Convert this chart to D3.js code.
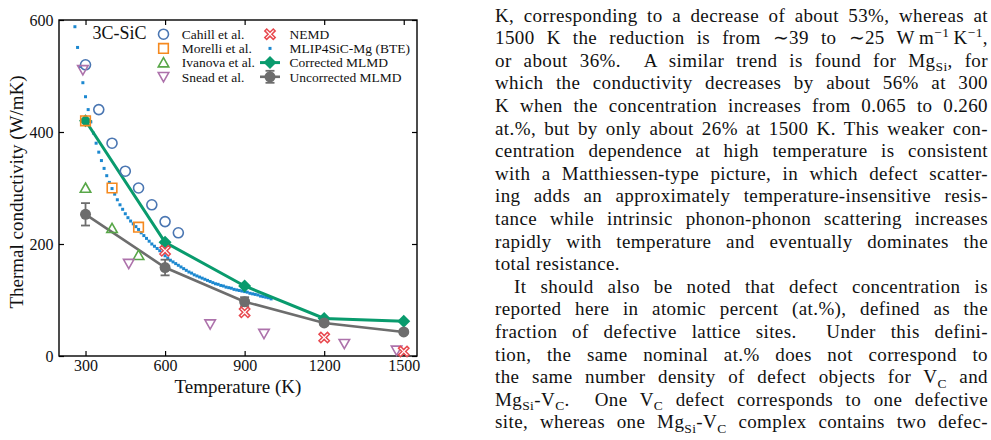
<!DOCTYPE html>
<html>
<head>
<meta charset="utf-8">
<script src="https://cdn.jsdelivr.net/npm/d3@7"></script>
<style>
  html, body { margin: 0; padding: 0; background: #fff; }
  svg { display: block; }
</style>
</head>
<body>
<svg id="fig" width="991" height="440"></svg>
<script>
// ---------------- DATA ----------------
const xTicks = [300, 600, 900, 1200, 1500];
const yTicks = [0, 200, 400, 600];

const cahillT = [300, 350, 400, 450, 500, 550, 600, 650];
const cahillK = [520, 440, 380, 330, 300, 270, 240, 220];

const morelliT = [300, 400, 500];
const morelliK = [420, 300, 230];

const ivanovaT = [300, 400, 500];
const ivanovaK = [300, 228, 180];

const sneadT = [290, 463, 770, 973, 1276, 1473];
const sneadK = [511, 165, 57, 40, 22, 10];

const nemdT = [600, 900, 1200, 1500];
const nemdK = [188, 78, 33, 8];

const bteT = [260, 270, 280, 290, 300, 310, 320, 330, 340, 350, 360, 370, 380, 390, 400,
  410, 420, 430, 440, 450, 460, 470, 480, 490, 500, 510, 520, 530, 540, 550, 560, 570,
  580, 590, 600, 610, 620, 630, 640, 650, 660, 670, 680, 690, 700, 710, 720, 730, 740,
  750, 760, 770, 780, 790, 800, 810, 820, 830, 840, 850, 860, 870, 880, 890, 900, 910,
  920, 930, 940, 950, 960, 970, 980, 990, 1000];
const bteK = [588, 551, 517, 488, 463, 440, 418, 398, 380, 364, 349, 335, 322, 310, 299,
  289, 279, 270, 262, 254, 247, 241, 236, 231, 226, 220, 215, 210, 205, 200, 196, 192,
  188, 184, 179, 175, 171, 168, 165, 162, 159, 156, 153, 150, 148, 145, 143, 141, 139,
  137, 135, 133, 131, 129, 128, 126, 125, 123, 122, 121, 119, 118, 117, 116, 115, 114,
  112, 111, 110, 109, 107, 106, 105, 104, 102];

const mlmdT = [300, 600, 900, 1200, 1500];
const correctedK = [420, 203, 125, 67, 62];
const uncorrectedK = [253, 158, 97, 59, 43];
const uncorrectedErr = [20, 14, 8, 4, 3];

const legendCol1 = ["Cahill et al.", "Morelli et al.", "Ivanova et al.", "Snead et al."];
const legendCol2 = ["NEMD", "MLIP4SiC-Mg (BTE)", "Corrected MLMD", "Uncorrected MLMD"];

const textLines = [
  "K, corresponding to a decrease of about 53%, whereas at",
  "1500 K the reduction is from \u223C39 to \u223C25 W\u2009m^{\u22121}\u2009K^{\u22121},",
  "or about 36%.  A similar trend is found for Mg_{Si}, for",
  "which the conductivity decreases by about 56% at 300",
  "K when the concentration increases from 0.065 to 0.260",
  "at.%, but by only about 26% at 1500 K. This weaker con-",
  "centration dependence at high temperature is consistent",
  "with a Matthiessen-type picture, in which defect scatter-",
  "ing adds an approximately temperature-insensitive resis-",
  "tance while intrinsic phonon-phonon scattering increases",
  "rapidly with temperature and eventually dominates the",
  "total resistance.",
  "It should also be noted that defect concentration is",
  "reported here in atomic percent (at.%), defined as the",
  "fraction of defective lattice sites.  Under this defini-",
  "tion, the same nominal at.% does not correspond to",
  "the same number density of defect objects for V_{C} and",
  "Mg_{Si}-V_{C}.  One V_{C} defect corresponds to one defective",
  "site, whereas one Mg_{Si}-V_{C} complex contains two defec-"
];
const raggedLines = [11];
const indentedLines = [12];

// ---------------- CHART ----------------
const svg = d3.select("#fig");
const serif = "'Liberation Serif', 'Times New Roman', serif";
const plot = { left: 59, right: 417, top: 20, bottom: 356 };

const x = d3.scaleLinear().domain([200, 1550]).range([plot.left, plot.right]);
const y = d3.scaleLinear().domain([0, 600]).range([plot.bottom, plot.top]);

const colors = {
  cahill: "#4a76b2", morelli: "#f5891f", ivanova: "#58a748", snead: "#ad72ab",
  nemd: "#e8484e", bte: "#1c88d0", corrected: "#099b6d", uncorrected: "#6d6d6d"
};

const shapes = {
  circle: r => `M${r},0A${r},${r} 0 1,1 ${-r},0A${r},${r} 0 1,1 ${r},0Z`,
  square: h => `M${-h},${-h}H${h}V${h}H${-h}Z`,
  triUp: h => `M0,${-h}L${h * 1.05},${h * 0.85}L${-h * 1.05},${h * 0.85}Z`,
  triDown: h => `M0,${h}L${h * 1.05},${-h * 0.85}L${-h * 1.05},${-h * 0.85}Z`,
  diamond: h => `M0,${-h}L${h},0L0,${h}L${-h},0Z`,
  xcross: (b, a) => {
    const pts = [[a, 0], [b, b - a], [b - a, b], [0, a], [a - b, b], [-b, b - a], [-a, 0], [-b, a - b], [a - b, -b], [0, -a], [b - a, -b], [b, a - b]];
    return "M" + pts.map(p => p.join(",")).join("L") + "Z";
  }
};

svg.append("rect")
  .attr("x", plot.left).attr("y", plot.top)
  .attr("width", plot.right - plot.left).attr("height", plot.bottom - plot.top)
  .attr("fill", "none").attr("stroke", "#000").attr("stroke-width", 1.4);

function styleAxis(g) {
  g.attr("font-family", serif).attr("font-size", 16);
  g.select(".domain").remove();
  g.selectAll(".tick line").attr("stroke", "#000").attr("stroke-width", 1.2);
  g.selectAll(".tick text").attr("font-family", serif).attr("font-size", 16).attr("fill", "#111");
}
const fmt = d3.format("d");
svg.append("g").attr("transform", `translate(0,${plot.bottom})`)
  .call(d3.axisBottom(x).tickValues(xTicks).tickFormat(fmt).tickSizeInner(-5).tickSizeOuter(0).tickPadding(3.5))
  .call(styleAxis);
svg.append("g").attr("transform", `translate(0,${plot.top})`)
  .call(d3.axisTop(x).tickValues(xTicks).tickSizeInner(-5).tickSizeOuter(0).tickFormat(""))
  .call(styleAxis);
svg.append("g").attr("transform", `translate(${plot.left},0)`)
  .call(d3.axisLeft(y).tickValues(yTicks).tickFormat(fmt).tickSizeInner(-5).tickSizeOuter(0).tickPadding(5.5))
  .call(styleAxis);
svg.append("g").attr("transform", `translate(${plot.right},0)`)
  .call(d3.axisRight(y).tickValues(yTicks).tickSizeInner(-5).tickSizeOuter(0).tickFormat(""))
  .call(styleAxis);

svg.append("text")
  .attr("x", (plot.left + plot.right) / 2).attr("y", 393)
  .attr("text-anchor", "middle").attr("font-family", serif).attr("font-size", 19)
  .attr("fill", "#111").text("Temperature (K)");
svg.append("text")
  .attr("transform", `translate(23,192) rotate(-90)`)
  .attr("text-anchor", "middle").attr("font-family", serif).attr("font-size", 19)
  .attr("fill", "#111").text("Thermal conductivity (W/mK)");

const gData = svg.append("g");

gData.selectAll("rect.bte").data(bteT.map((t, i) => [t, bteK[i]])).join("rect")
  .attr("x", d => x(d[0]) - 1.5).attr("y", d => y(d[1]) - 1.5)
  .attr("width", 3).attr("height", 3).attr("fill", colors.bte);

const line = d3.line().x(d => x(d[0])).y(d => y(d[1]));
const corrData = mlmdT.map((t, i) => [t, correctedK[i]]);
const uncData = mlmdT.map((t, i) => [t, uncorrectedK[i], uncorrectedErr[i]]);

gData.append("path").datum(corrData).attr("d", line)
  .attr("fill", "none").attr("stroke", colors.corrected).attr("stroke-width", 3);
gData.selectAll("path.dia").data(corrData).join("path")
  .attr("transform", d => `translate(${x(d[0])},${y(d[1])})`)
  .attr("d", shapes.diamond(6.5)).attr("fill", colors.corrected);

gData.append("path").datum(uncData).attr("d", line)
  .attr("fill", "none").attr("stroke", colors.uncorrected).attr("stroke-width", 2.6);
const eb = gData.selectAll("g.eb").data(uncData).join("g")
  .attr("transform", d => `translate(${x(d[0])},0)`);
eb.append("line").attr("x1", 0).attr("x2", 0)
  .attr("y1", d => y(d[1] - d[2])).attr("y2", d => y(d[1] + d[2]))
  .attr("stroke", colors.uncorrected).attr("stroke-width", 1.8);
eb.append("line").attr("x1", -4.5).attr("x2", 4.5)
  .attr("y1", d => y(d[1] - d[2])).attr("y2", d => y(d[1] - d[2]))
  .attr("stroke", colors.uncorrected).attr("stroke-width", 1.8);
eb.append("line").attr("x1", -4.5).attr("x2", 4.5)
  .attr("y1", d => y(d[1] + d[2])).attr("y2", d => y(d[1] + d[2]))
  .attr("stroke", colors.uncorrected).attr("stroke-width", 1.8);
eb.append("circle").attr("cx", 0).attr("cy", d => y(d[1])).attr("r", 5.5)
  .attr("fill", colors.uncorrected);

function scatter(T, K, shape, color, fill, sw) {
  gData.append("g").selectAll("path").data(T.map((t, i) => [t, K[i]])).join("path")
    .attr("transform", d => `translate(${x(d[0])},${y(d[1])})`)
    .attr("d", shape).attr("fill", fill).attr("stroke", color).attr("stroke-width", sw);
}
scatter(cahillT, cahillK, shapes.circle(5), colors.cahill, "none", 1.6);
scatter(morelliT, morelliK, shapes.square(4.8), colors.morelli, "none", 1.6);
scatter(ivanovaT, ivanovaK, shapes.triUp(5), colors.ivanova, "none", 1.6);
scatter(sneadT, sneadK, shapes.triDown(5), colors.snead, "none", 1.6);
scatter(nemdT, nemdK, shapes.xcross(5.2, 1.9), colors.nemd, "#fff", 1.5);

// ---------------- LEGEND ----------------
const rowY = i => 34.2 + i * 14.2;
const lg = svg.append("g");
lg.append("text").attr("x", 92.5).attr("y", 38.5).attr("font-family", serif)
  .attr("font-size", 18).attr("fill", "#111").text("3C-SiC");

const c1x = 163.5, c2x = 270;
const col1Shapes = [
  [shapes.circle(5), colors.cahill], [shapes.square(4.8), colors.morelli],
  [shapes.triUp(5), colors.ivanova], [shapes.triDown(5), colors.snead]
];
col1Shapes.forEach((s, i) => {
  lg.append("path").attr("transform", `translate(${c1x},${rowY(i)})`)
    .attr("d", s[0]).attr("fill", "none").attr("stroke", s[1]).attr("stroke-width", 1.6);
});
lg.append("path").attr("transform", `translate(${c2x},${rowY(0)})`)
  .attr("d", shapes.xcross(5.2, 1.9)).attr("fill", "#fff").attr("stroke", colors.nemd).attr("stroke-width", 1.5);
lg.append("rect").attr("x", c2x - 1.5).attr("y", rowY(1) - 1.5).attr("width", 3).attr("height", 3)
  .attr("fill", colors.bte);
lg.append("line").attr("x1", c2x - 10).attr("x2", c2x + 10).attr("y1", rowY(2)).attr("y2", rowY(2))
  .attr("stroke", colors.corrected).attr("stroke-width", 3);
lg.append("path").attr("transform", `translate(${c2x},${rowY(2)})`)
  .attr("d", shapes.diamond(6.5)).attr("fill", colors.corrected);
lg.append("line").attr("x1", c2x - 10).attr("x2", c2x + 10).attr("y1", rowY(3)).attr("y2", rowY(3))
  .attr("stroke", colors.uncorrected).attr("stroke-width", 2.6);
lg.append("line").attr("x1", c2x).attr("x2", c2x).attr("y1", rowY(3) - 6).attr("y2", rowY(3) + 6)
  .attr("stroke", colors.uncorrected).attr("stroke-width", 1.8);
[-6, 6].forEach(o => lg.append("line").attr("x1", c2x - 4.5).attr("x2", c2x + 4.5)
  .attr("y1", rowY(3) + o).attr("y2", rowY(3) + o)
  .attr("stroke", colors.uncorrected).attr("stroke-width", 1.8));
lg.append("circle").attr("cx", c2x).attr("cy", rowY(3)).attr("r", 5.5).attr("fill", colors.uncorrected);

legendCol1.forEach((t, i) => lg.append("text").attr("x", 181.7).attr("y", rowY(i)).attr("dy", "0.35em")
  .attr("font-family", serif).attr("font-size", 13.5).attr("fill", "#111").text(t));
legendCol2.forEach((t, i) => lg.append("text").attr("x", 289.5).attr("y", rowY(i)).attr("dy", "0.35em")
  .attr("font-family", serif).attr("font-size", 13.5).attr("fill", "#111").text(t));

// ---------------- PARAGRAPH ----------------
const para = svg.append("g");
const textLeft = 495, textRight = 988, baseY0 = 21.5, lineGap = 22.6, indent = 19;
const fs = 19, letterSp = 0.4, subFs = 13.5, subShift = 4.5, supShift = -7.5;
textLines.forEach((ln, i) => {
  const x0 = textLeft + (indentedLines.includes(i) ? indent : 0);
  const t = para.append("text").attr("x", x0).attr("y", baseY0 + i * lineGap)
    .attr("font-family", serif).attr("font-size", fs).attr("fill", "#111")
    .style("white-space", "pre").style("letter-spacing", letterSp + "px");
  const parts = ln.split(/(_\{[^}]*\}|\^\{[^}]*\})/).filter(p => p.length);
  let shift = 0;
  parts.forEach(p => {
    if (p.startsWith("_{")) {
      t.append("tspan").attr("dy", subShift - shift).attr("font-size", subFs).text(p.slice(2, -1));
      shift = subShift;
    } else if (p.startsWith("^{")) {
      t.append("tspan").attr("dy", supShift - shift).attr("font-size", subFs).text(p.slice(2, -1));
      shift = supShift;
    } else {
      t.append("tspan").attr("dy", -shift).text(p);
      shift = 0;
    }
  });
  if (!raggedLines.includes(i)) {
    const target = textRight - x0;
    const natural = t.node().getComputedTextLength();
    const nSpaces = (ln.match(/ /g) || []).length;
    if (nSpaces > 0) t.style("word-spacing", ((target - natural) / nSpaces) + "px");
  }
});
</script>
</body>
</html>
